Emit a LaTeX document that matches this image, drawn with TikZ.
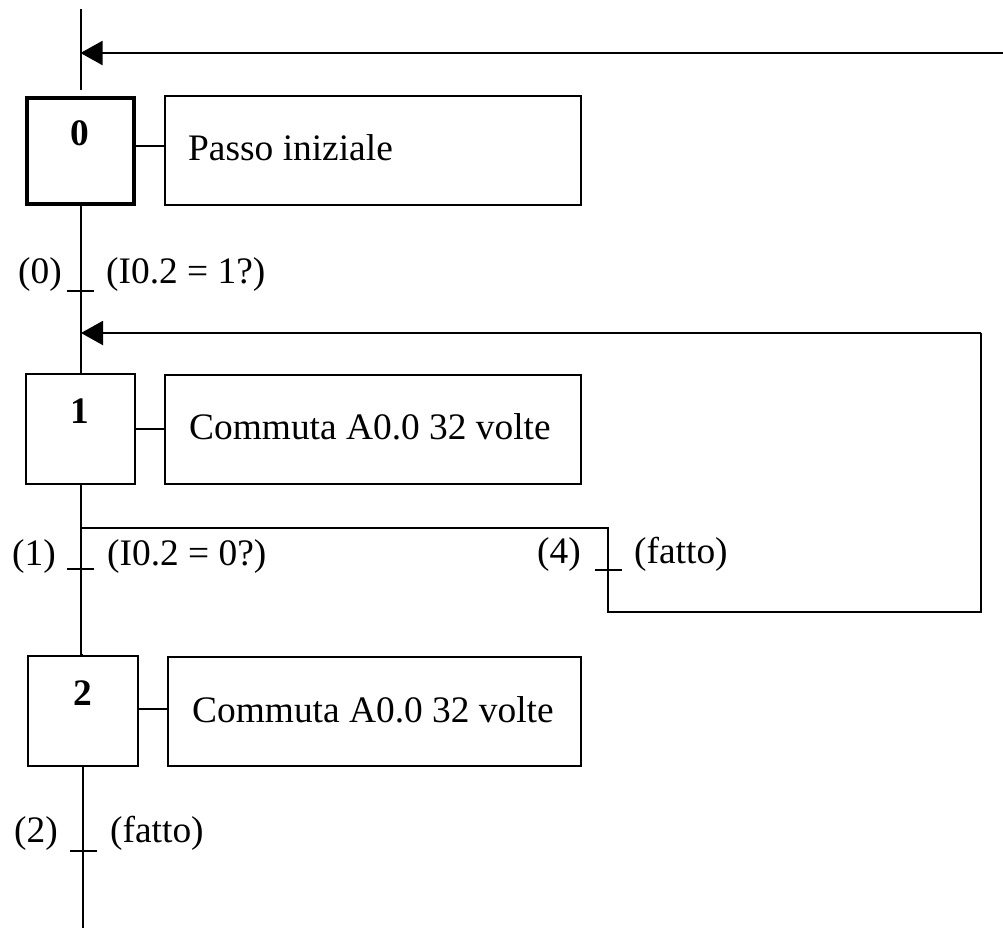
\documentclass[tikz,border=0pt]{standalone}
\usepackage{fontspec}
\setmainfont{Liberation Serif}
\usetikzlibrary{arrows.meta}
\begin{document}
\begin{tikzpicture}[x=1pt,y=-1pt,
  every node/.style={font=\fontsize{37.4}{44}\selectfont},
  wire/.style={line width=2pt},
  stepbox/.style={draw,line width=2pt,minimum width=110pt,minimum height=110pt,inner sep=0pt},
  initbox/.style={stepbox,line width=4pt,minimum width=107pt,minimum height=106pt},
  actbox/.style={draw,line width=2pt,minimum height=109pt,inner sep=0pt},
  stepnum/.style={font=\fontsize{37.4}{44}\selectfont\bfseries,inner sep=0pt},
  txt/.style={inner sep=0pt},
  back/.style={wire,-{Triangle[length=22pt,width=24pt]}}]
\useasboundingbox (0,0) rectangle (1003,930);

% steps and their actions
\node[initbox] (s0) at (80.5,151) {};
\node[stepnum] at (80,133) {0};
\node[actbox,minimum width=416pt] (a0) at (373,150.5) {};
\node[txt,anchor=base west] at (188,160) {Passo iniziale};

\node[stepnum] at (80,411) {1};
\node[stepbox,minimum width=109pt] (s1) at (80.5,429) {};
\node[actbox,minimum width=416pt] (a1) at (373,429) {};
\node[txt,anchor=base west] at (189,439) {Commuta A0.0 32 volte};

\node[stepbox] (s2) at (83,711) {};
\node[stepnum] at (83,693) {2};
\node[actbox,minimum width=413pt] (a2) at (374.5,711) {};
\node[txt,anchor=base west] at (192,722) {Commuta A0.0 32 volte};

\draw[wire] (s0.east |- 0,146) -- (a0.west |- 0,146);
\draw[wire] (s1.east) -- (a1.west);
\draw[wire] (s2.east |- 0,709) -- (a2.west |- 0,709);

% transitions
\coordinate (t0) at (80.5,291);
\coordinate (t1) at (80.5,569);
\coordinate (t2) at (83,851);
\coordinate (t4) at (608,570);
\foreach \t in {t0,t1,t2,t4}
  \draw[wire] ([xshift=-13.5pt]\t) -- ([xshift=13.5pt]\t);

\node[txt,anchor=base east] at (62,283) {(0)};
\node[txt,anchor=base west] at (106,283) {(I0.2 = 1?)};
\node[txt,anchor=base east] at (56,565) {(1)};
\node[txt,anchor=base west] at (107,565) {(I0.2 = 0?)};
\node[txt,anchor=base east] at (58,842) {(2)};
\node[txt,anchor=base west] at (110,842) {(fatto)};
\node[txt,anchor=base east] at (581,563) {(4)};
\node[txt,anchor=base west] at (634,563) {(fatto)};

% main flow line
\coordinate (top) at (80.5,9);
\coordinate (gap) at (80.5,90);
\coordinate (bot) at (83,928);
\draw[wire] (top) -- (gap);
\draw[wire] (s0.south) -- (t0) -- (s1.north);
\draw[wire] (s1.south) -- (t1) -- (t1 |- 0,620) -- (s2.north -| t1) -- (s2.north);
\draw[wire] (s2.south) -- (t2) -- (bot);

% return from the end of the cycle to step 0
\coordinate (r0) at (1003,53);
\coordinate (m0) at (80.5,53);
\draw[back] (r0) -- (m0);

% alternative branch (4) looping back to step 1
\coordinate (b0) at (80.5,528);
\coordinate (b1) at (608,528);
\coordinate (b2) at (608,612);
\coordinate (b3) at (981,612);
\coordinate (b4) at (981,333);
\coordinate (m1) at (81,333);
\draw[wire] (b0) -- (b1) -- (t4) -- (b2) -- (b3) -- (b4);
\draw[back] (b4) -- (m1);
\end{tikzpicture}
\end{document}
